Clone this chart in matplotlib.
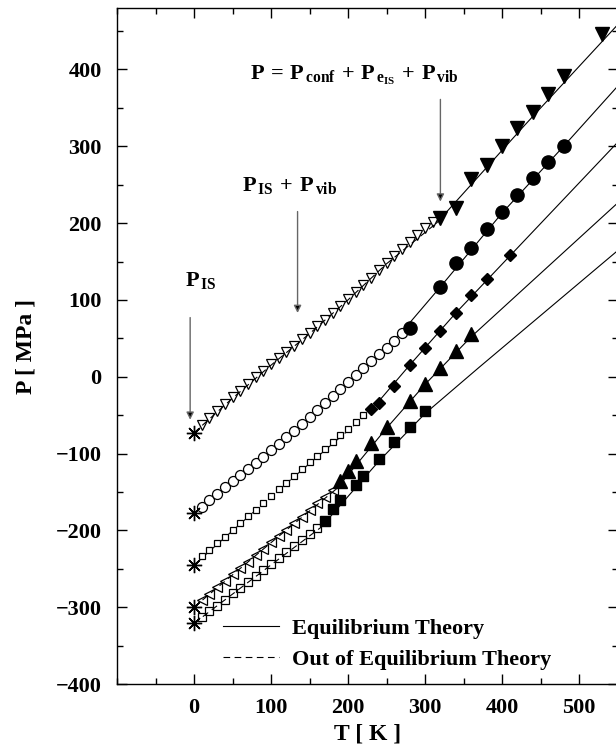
import numpy as np
import matplotlib.pyplot as plt
from matplotlib.lines import Line2D
from matplotlib.ticker import MultipleLocator

plt.rcParams['font.family'] = 'Liberation Serif'
plt.rcParams['font.weight'] = 'bold'
plt.rcParams['axes.labelweight'] = 'bold'
plt.rcParams['mathtext.fontset'] = 'custom'
plt.rcParams['mathtext.rm'] = 'Liberation Serif:bold'
plt.rcParams['mathtext.it'] = 'Liberation Serif:bold'
plt.rcParams['mathtext.bf'] = 'Liberation Serif:bold'

# P_IS at T = 0 for the five densities
P_IS = [-73, -178, -245, -300, -321]

# series A (down triangles)
TA_open = [10, 20, 30, 40, 50, 60, 70, 80, 90, 100, 110, 120, 130, 140, 150, 160,
           170, 180, 190, 200, 210, 220, 230, 240, 250, 260, 270, 280, 290, 300, 310]
PA_open = [-63, -54, -45, -36, -27, -18, -10, -1, 7, 16, 24, 32, 40, 49, 57, 66,
           74, 83, 92, 101, 110, 120, 129, 139, 148, 157, 166, 175, 184, 193, 202]
TA_fill = [320, 340, 360, 380, 400, 420, 440, 460, 480, 530]
PA_fill = [207, 219, 257, 276, 300, 324, 344, 368, 391, 446]

# series B (circles)
TB_open = [10, 20, 30, 40, 50, 60, 70, 80, 90, 100, 110, 120, 130, 140, 150, 160,
           170, 180, 190, 200, 210, 220, 230, 240, 250, 260, 270]
PB_open = [-169, -161, -153, -144, -136, -128, -120, -112, -104, -96, -87, -78, -70, -61,
           -52, -43, -34, -25, -16, -7, 2, 11, 20, 29, 38, 47, 57]
TB_fill = [280, 320, 340, 360, 380, 400, 420, 440, 460, 480]
PB_fill = [64, 117, 148, 168, 192, 215, 237, 259, 280, 300]

# series C (small squares / diamonds)
TC_open = [10, 20, 30, 40, 50, 60, 70, 80, 90, 100, 110, 120, 130, 140, 150, 160,
           170, 180, 190, 200, 210, 220]
PC_open = [-234, -225, -216, -208, -199, -190, -181, -173, -164, -155, -146, -138, -129,
           -120, -111, -103, -94, -85, -76, -68, -59, -50]
TC_fill = [230, 240, 260, 280, 300, 320, 340, 360, 380, 410]
PC_fill = [-42, -34, -12, 15, 37, 60, 83, 106, 127, 158]

# series D (left / up triangles)
TD_open = [10, 20, 30, 40, 50, 60, 70, 80, 90, 100, 110, 120, 130, 140, 150, 160, 170, 180]
PD_open = [-291, -283, -274, -266, -257, -249, -241, -232, -224, -215, -207, -199, -190,
           -182, -173, -165, -157, -148]
TD_fill = [190, 200, 210, 230, 250, 280, 300, 320, 340, 360]
PD_fill = [-136, -123, -110, -86, -65, -31, -9, 12, 34, 55]

# series E (squares)
TE_open = [10, 20, 30, 40, 50, 60, 70, 80, 90, 100, 110, 120, 130, 140, 150, 160]
PE_open = [-313, -305, -298, -290, -282, -275, -267, -259, -251, -244, -236, -228, -221,
           -213, -205, -197]
TE_fill = [170, 180, 190, 210, 220, 240, 260, 280, 300]
PE_fill = [-188, -172, -161, -141, -129, -107, -85, -65, -45]

# equilibrium theory (solid)
eqA_T, eqA_P = [315, 430, 550], [200, 328, 458]
eqB_T, eqB_P = [280, 320, 400, 480, 550], [70, 117, 213, 300, 378]
eqC_T, eqC_P = [228, 280, 340, 410, 550], [-46, 15, 83, 157, 305]
eqD_T, eqD_P = [185, 250, 300, 360, 550], [-146, -67, -10, 52, 226]
eqE_T, eqE_P = [165, 240, 300, 370, 550], [-196, -110, -48, 12, 164]

# out of equilibrium theory (dashed)
neA_T, neA_P = [0, 50, 100, 150, 200, 250, 315], [-73, -28, 15, 56, 100, 147, 200]
neB_T, neB_P = [0, 50, 100, 150, 200, 280], [-178, -137, -97, -53, -8, 68]
neC_T, neC_P = [0, 100, 228], [-245, -156, -46]
neD_T, neD_P = [0, 100, 185], [-300, -216, -146]
neE_T, neE_P = [0, 100, 165], [-321, -245, -196]

fig = plt.figure(figsize=(6.16, 7.46), dpi=100)
ax = fig.add_axes([117/616, 62/746, 500.5/616, 676/746])

lw = 0.8
for T, P in [(eqA_T, eqA_P), (eqB_T, eqB_P), (eqC_T, eqC_P), (eqD_T, eqD_P), (eqE_T, eqE_P)]:
    ax.plot(T, P, '-', color='k', lw=lw, zorder=2)
for T, P in [(neA_T, neA_P), (neB_T, neB_P), (neC_T, neC_P), (neD_T, neD_P), (neE_T, neE_P)]:
    ax.plot(T, P, '--', color='k', lw=lw, dashes=(6, 4), zorder=2)

mew = 0.9
ax.plot(TA_open, PA_open, 'v', ms=7.5, mfc='none', mec='k', mew=mew, zorder=3)
ax.plot(TA_fill, PA_fill, 'v', ms=9.5, color='k', zorder=3)
ax.plot(TB_open, PB_open, 'o', ms=7.2, mfc='white', mec='k', mew=mew, zorder=3)
ax.plot(TB_fill, PB_fill, 'o', ms=9.5, color='k', zorder=3)
ax.plot(TC_open, PC_open, 's', ms=4.5, mfc='white', mec='k', mew=mew, zorder=3)
ax.plot(TC_fill, PC_fill, 'D', ms=6.5, color='k', zorder=3)
ax.plot(TD_open, PD_open, '<', ms=7.5, mfc='none', mec='k', mew=mew, zorder=3)
ax.plot(TD_fill, PD_fill, '^', ms=9.5, color='k', zorder=3)
ax.plot(TE_open, PE_open, 's', ms=5.5, mfc='none', mec='k', mew=mew, zorder=3)
ax.plot(TE_fill, PE_fill, 's', ms=7.8, color='k', zorder=3)
ax.plot([0]*5, P_IS, marker=(8, 2, 0), ls='none', ms=11, color='k', mew=1.0, zorder=4)

# annotations
fs = 16
ax.text(-12, 118, r'$P_{\,IS}$', fontsize=fs, ha='left', va='baseline')
ax.text(62, 242, r'$P_{\,IS}\,+\,P_{\,vib}$', fontsize=fs, ha='left', va='baseline')
ax.text(73, 387, r'$P\,=\,P_{\,conf}\,+\,P_{\,e_{IS}}\,+\,P_{\,vib}$', fontsize=fs,
        ha='left', va='baseline')
arr = dict(arrowstyle='-|>', color='0.4', fc='k', ec='0.4', lw=1.0, mutation_scale=11,
           shrinkA=0, shrinkB=0)
ax.annotate('', xy=(-5, -56), xytext=(-5, 77), arrowprops=arr)
ax.annotate('', xy=(134.5, 83), xytext=(134.5, 215), arrowprops=arr)
ax.annotate('', xy=(320, 228), xytext=(320, 361), arrowprops=arr)

ax.set_xlim(-100, 550)
ax.set_ylim(-400, 480)
ax.set_xticks([0, 100, 200, 300, 400, 500])
ax.set_yticks([-400, -300, -200, -100, 0, 100, 200, 300, 400])
ax.xaxis.set_minor_locator(MultipleLocator(50))
ax.yaxis.set_minor_locator(MultipleLocator(50))
ax.tick_params(which='both', direction='in', top=True, right=True, labelsize=16)
ax.tick_params(which='major', length=7, width=1)
ax.tick_params(which='minor', length=4, width=1)
ax.tick_params(axis='y', pad=11)
ax.tick_params(axis='x', pad=10)
for lbl in ax.get_xticklabels() + ax.get_yticklabels():
    lbl.set_fontweight('bold')
for s in ax.spines.values():
    s.set_linewidth(1.0)

ax.set_xlabel('T [ K ]', fontsize=17, fontweight='bold', labelpad=4)
ax.set_ylabel('P [ MPa ]', fontsize=17, fontweight='bold', labelpad=14)

handles = [Line2D([], [], color='k', lw=lw, ls='-'),
           Line2D([], [], color='k', lw=lw, ls='--', dashes=(6, 4))]
leg = ax.legend(handles, ['Equilibrium Theory', 'Out of Equilibrium Theory'],
                loc='center left', bbox_to_anchor=(0.212, 0.059), frameon=False,
                prop={'size': 16, 'weight': 'bold'}, handlelength=2.5,
                handletextpad=0.6, labelspacing=0.45, borderpad=0, borderaxespad=0)

plt.savefig('out.png', dpi=100)
